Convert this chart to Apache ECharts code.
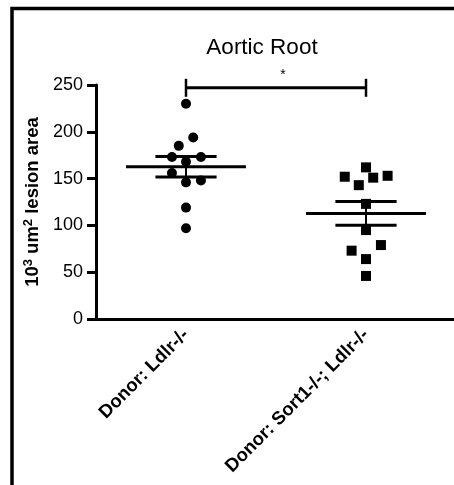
<!DOCTYPE html>
<html>
<head>
<meta charset="utf-8">
<script src="https://cdn.jsdelivr.net/npm/echarts@6/dist/echarts.min.js"></script>
<style>
html, body { margin: 0; padding: 0; background: #fff; overflow: hidden; }
#chart { width: 454px; height: 485px; }
</style>
</head>
<body>
<div id="chart"></div>
<script>
var groups = ["Donor: Ldlr-/-", "Donor: Sort1-/-; Ldlr-/-"];
var yTicks = [0, 50, 100, 150, 200, 250];
// lesion area per mouse
var ldlrValues = [230, 194, 185, 173, 168, 173, 156, 146, 148, 119, 97];
var sortValues = [162, 152, 151, 153, 143, 123, 95, 79, 73, 64, 46];
// horizontal scatter of the dots, in category widths
var ldlrJitter = [0, 0.04, -0.04, -0.078, 0, 0.083, -0.078, 0, 0.083, 0, 0];
var sortJitter = [0, -0.118, 0.04, 0.12, -0.04, 0, 0, 0.083, -0.08, 0, 0];
var bracketValue = 247;
var starText = "*";

function points(center, values, jitter) {
    var out = [];
    for (var i = 0; i < values.length; i++) out.push([center + jitter[i], values[i]]);
    return out;
}
function meanSem(center, values) {
    var n = values.length, sum = 0;
    values.forEach(function (v) { sum += v; });
    var mean = sum / n, ss = 0;
    values.forEach(function (v) { ss += (v - mean) * (v - mean); });
    var sd = Math.sqrt(ss / (n - 1));
    return [center, mean, sd / Math.sqrt(n)];
}

var font = "Liberation Sans";
var chart = echarts.init(document.getElementById("chart"));
chart.setOption({
    animation: false,
    title: {
        text: "Aortic Root",
        left: 257, top: 31, textAlign: "center",
        textStyle: { fontFamily: font, fontSize: 22.5, fontWeight: "normal", color: "#000" }
    },
    graphic: [{
        type: "polyline", shape: { points: [[12, 700], [12, 8.5], [700, 8.5]] },
        style: { fill: null, stroke: "#000", lineWidth: 3.5 }, silent: true
    }],
    grid: { left: 96, top: 85, width: 360, bottom: 166, containLabel: false, outerBoundsMode: "none" },
    xAxis: [{
        type: "category",
        data: groups,
        axisLine: { lineStyle: { color: "#000", width: 3 } },
        axisTick: { alignWithLabel: true, length: 9, lineStyle: { color: "#000", width: 3 } },
        axisLabel: {
            rotate: 45, margin: 13, interval: 0,
            fontFamily: font, fontWeight: "bold", fontSize: 18.5, color: "#000"
        }
    }, {
        type: "value", min: 0, max: 2, show: false
    }],
    yAxis: {
        type: "value", min: 0, max: 250, interval: 50,
        name: "{b|10}{s|3}{b| um}{s|2}{b| lesion area}",
        nameLocation: "middle", nameGap: 48, nameRotate: 90,
        nameTextStyle: {
            rich: {
                b: { fontFamily: font, fontWeight: "bold", fontSize: 18.5, color: "#000", lineHeight: 22 },
                s: { fontFamily: font, fontWeight: "bold", fontSize: 13, color: "#000", verticalAlign: "top", lineHeight: 22 }
            }
        },
        splitLine: { show: false },
        axisLine: { show: true, lineStyle: { color: "#000", width: 3 } },
        axisTick: { show: true, length: 9, lineStyle: { color: "#000", width: 3 } },
        axisLabel: {
            margin: 13, fontFamily: font, fontSize: 18, color: "#000",
            formatter: function (v) { return yTicks.indexOf(v) >= 0 ? String(v) : ""; }
        }
    },
    series: [{
        type: "scatter", xAxisIndex: 1, symbol: "circle", symbolSize: 10,
        itemStyle: { color: "#000", opacity: 1 },
        data: points(0.5, ldlrValues, ldlrJitter)
    }, {
        type: "scatter", xAxisIndex: 1, symbol: "rect", symbolSize: 10,
        itemStyle: { color: "#000", opacity: 1 },
        data: points(1.5, sortValues, sortJitter)
    }, {
        // mean with SEM whiskers
        type: "custom", xAxisIndex: 1, z: 5,
        data: [meanSem(0.5, ldlrValues), meanSem(1.5, sortValues)],
        renderItem: function (params, api) {
            var c = api.value(0), m = api.value(1), e = api.value(2);
            var a = api.coord([c - 0.333, m]), b = api.coord([c + 0.333, m]);
            var hi = api.coord([c, m + e]), lo = api.coord([c, m - e]);
            var h1 = api.coord([c - 0.17, m + e]), h2 = api.coord([c + 0.17, m + e]);
            var l1 = api.coord([c - 0.17, m - e]), l2 = api.coord([c + 0.17, m - e]);
            var st = { stroke: "#000", lineWidth: 3 };
            return { type: "group", children: [
                { type: "line", shape: { x1: a[0], y1: a[1], x2: b[0], y2: b[1] }, style: st },
                { type: "line", shape: { x1: h1[0], y1: h1[1], x2: h2[0], y2: h2[1] }, style: st },
                { type: "line", shape: { x1: l1[0], y1: l1[1], x2: l2[0], y2: l2[1] }, style: st },
                { type: "line", shape: { x1: hi[0], y1: hi[1], x2: lo[0], y2: lo[1] }, style: { stroke: "#000", lineWidth: 2 } }
            ] };
        }
    }, {
        // significance bracket
        type: "custom", xAxisIndex: 1, z: 5,
        data: [[0.5, 1.5, bracketValue]],
        renderItem: function (params, api) {
            var p = api.coord([api.value(0), api.value(2)]);
            var q = api.coord([api.value(1), api.value(2)]);
            return { type: "group", children: [
                { type: "line", shape: { x1: p[0], y1: p[1], x2: q[0], y2: q[1] }, style: { stroke: "#000", lineWidth: 3 } },
                { type: "line", shape: { x1: p[0], y1: p[1] - 9, x2: p[0], y2: p[1] + 9 }, style: { stroke: "#000", lineWidth: 2.5 } },
                { type: "line", shape: { x1: q[0], y1: q[1] - 9, x2: q[0], y2: q[1] + 9 }, style: { stroke: "#000", lineWidth: 2.5 } },
                { type: "text", x: (p[0] + q[0]) / 2 + 7, y: p[1] - 13,
                  style: { text: starText, fontFamily: font, fontSize: 14, fill: "#000", align: "center", verticalAlign: "middle" } }
            ] };
        }
    }]
});
</script>
</body>
</html>
